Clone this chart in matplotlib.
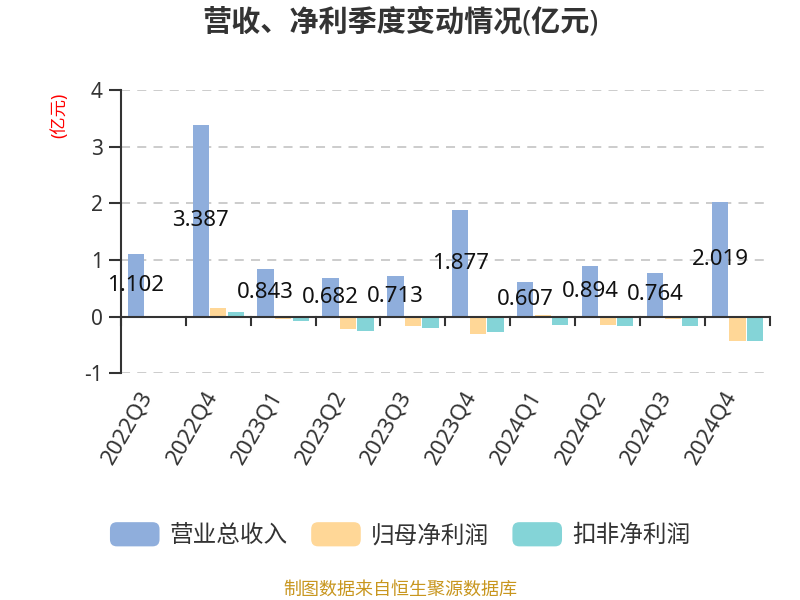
import matplotlib
matplotlib.use("Agg")
import matplotlib.pyplot as plt
from matplotlib.patches import FancyBboxPatch, Patch
from matplotlib.legend_handler import HandlerPatch
import matplotlib.transforms as mtrans
import numpy as np

plt.rcParams['font.family'] = ['Noto Sans', 'Noto Sans CJK SC', 'DejaVu Sans']
plt.rcParams['axes.unicode_minus'] = False

quarters = ["2022Q3", "2022Q4", "2023Q1", "2023Q2", "2023Q3", "2023Q4",
            "2024Q1", "2024Q2", "2024Q3", "2024Q4"]
revenue = [1.102, 3.387, 0.843, 0.682, 0.713, 1.877, 0.607, 0.894, 0.764, 2.019]
net_profit = [0.005, 0.15, -0.045, -0.215, -0.175, -0.30, 0.03, -0.15, -0.04, -0.44]
deducted_profit = [-0.02, 0.083, -0.07, -0.26, -0.20, -0.28, -0.147, -0.165, -0.165, -0.43]
series_names = ["营业总收入", "归母净利润", "扣非净利润"]
colors = ["#8FAEDC", "#FFD797", "#84D4D7"]

fig = plt.figure(figsize=(8, 6), dpi=100)
ax = fig.add_axes([0.151, 0.378, 0.8115, 0.472])

x = np.arange(len(quarters))
w = 0.25
off = 0.27
ax.bar(x - off, revenue, w, color=colors[0], zorder=3)
ax.bar(x, net_profit, w, color=colors[1], zorder=3)
ax.bar(x + off, deducted_profit, w, color=colors[2], zorder=3)

for xi, v in zip(x, revenue):
    ax.text(xi - off, v / 2, f"{v:.3f}", ha='center', va='center',
            fontsize=16, color='#111111', zorder=5)

ax.set_xlim(-0.5, len(quarters) - 0.5)
ax.set_ylim(-1, 4)
ax.set_yticks([-1, 0, 1, 2, 3, 4])
ax.tick_params(axis='y', labelsize=15, colors='#333333', length=9, width=1.5, pad=4)
for yv in [-1, 1, 2, 3, 4]:
    ax.axhline(yv, color='#C8C8C8', linestyle=(0, (5, 4)), linewidth=1.3, zorder=1)

ax.set_xticks(x)
ax.set_xticklabels(quarters, rotation=60, ha='right', va='center', rotation_mode='anchor',
                   fontsize=16, color='#333333')
ax.tick_params(axis='x', length=0, pad=14)
shift = mtrans.ScaledTranslation(-6 / 100, 0, fig.dpi_scale_trans)
for lab in ax.get_xticklabels():
    lab.set_transform(lab.get_transform() + shift)

for s in ['top', 'right', 'bottom']:
    ax.spines[s].set_visible(False)
ax.spines['left'].set_color('#333333')
ax.spines['left'].set_linewidth(1.5)
ax.axhline(0, color='#333333', linewidth=1.5, zorder=4)
for b in np.arange(-0.5, len(quarters)):
    ax.plot([b, b], [0, -0.15], color='#333333', linewidth=1.5, zorder=4, clip_on=False)

ax.text(-0.095, 0.912, "(亿元)", transform=ax.transAxes, rotation=90,
        color='red', fontsize=12.5, ha='center', va='center')

fig.text(0.5, 0.962, "营收、净利季度变动情况(亿元)", ha='center', va='center',
         fontsize=21, fontweight='bold', color='#333333')
fig.text(0.5, 0.018, "制图数据来自恒生聚源数据库", ha='center', va='center',
         fontsize=13, color='#C8961E')


class RoundHandler(HandlerPatch):
    def create_artists(self, legend, orig_handle, xdescent, ydescent,
                       width, height, fontsize, trans):
        p = FancyBboxPatch((-xdescent, -ydescent), width, height,
                           boxstyle="round,pad=0,rounding_size=5",
                           facecolor=orig_handle.get_facecolor(),
                           edgecolor='none', transform=trans)
        return [p]


handles = [Patch(facecolor=c) for c in colors]
fig.legend(handles, series_names, loc='center', bbox_to_anchor=(0.5, 0.108),
           ncol=3, frameon=False, fontsize=17, handlelength=2.1, handleheight=1.2,
           handletextpad=0.42, columnspacing=1.0, labelcolor='#333333',
           handler_map={Patch: RoundHandler()})

fig.savefig("out.png", dpi=100)
